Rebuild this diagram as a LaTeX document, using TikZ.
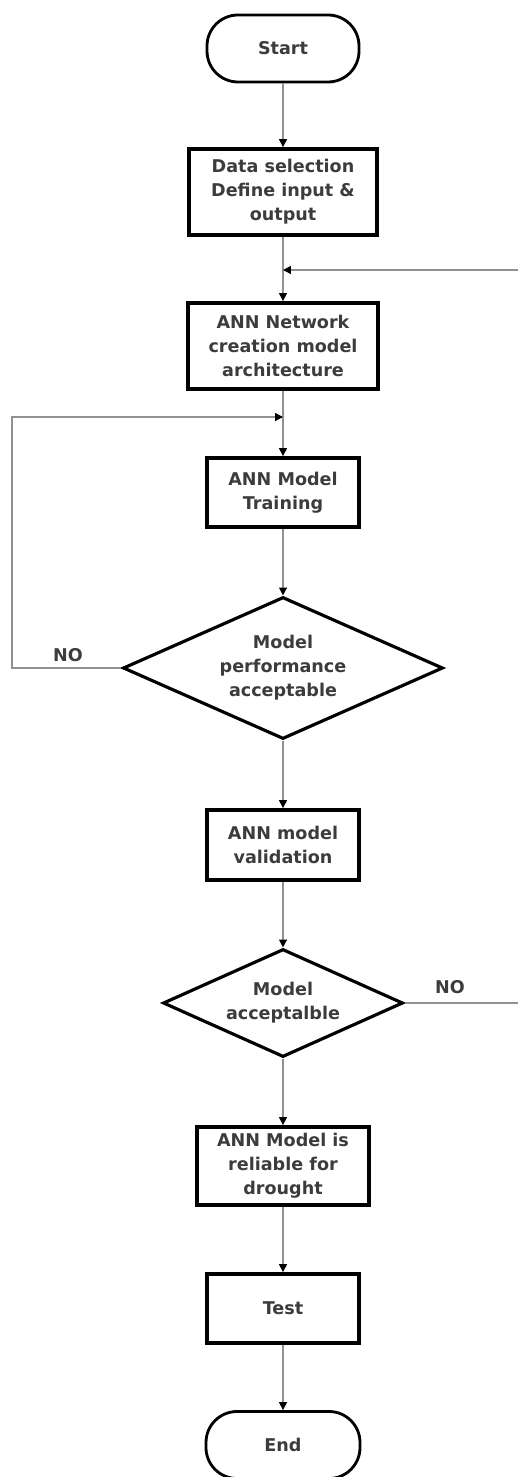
\documentclass[tikz,border=0pt]{standalone}
\usepackage{fontspec}
\setsansfont{DejaVu Sans}
\usepackage{tikz}
\usetikzlibrary{
  arrows.meta,
  positioning,
  shapes.geometric
}
\usepackage{xcolor}
\definecolor{txtgray}{RGB}{60,60,60}
\definecolor{linegray}{RGB}{145,145,145}

\begin{document}
\begin{tikzpicture}[
  every node/.style={font=\sffamily\bfseries\fontsize{10}{13.6}\selectfont, text=txtgray},
  flowbox/.style={draw=black, line width=2.2pt, fill=white, align=center,
               minimum width=3.04cm, minimum height=1.38cm, inner sep=1pt},
  termbox/.style={draw=black, line width=1.6pt, fill=white, rounded corners=0.62cm,
               minimum width=3.04cm, minimum height=1.34cm},
  decbox/.style={diamond, draw=black, line width=1.8pt, fill=white, align=center,
               inner sep=0pt, aspect=2.25},
  link/.style={draw=linegray, line width=0.8pt},
  > = {Triangle[length=4.5pt, width=4.5pt, color=black]}
]

\useasboundingbox (0, 0) rectangle (10.36, -29.54);

\node[termbox] (start) at (5.66, -0.97) {Start};
\node[flowbox, minimum width=3.76cm, minimum height=1.72cm] (sel) at (5.66, -3.84)
  {Data selection\\Define input \&\\output};
\node[flowbox, minimum width=3.8cm, minimum height=1.72cm] (net) at (5.66, -6.92)
  {ANN Network\\creation model\\architecture};
\node[flowbox] (train) at (5.66, -9.85)
  {ANN Model\\Training};
\node[decbox, minimum width=6.4cm, minimum height=2.84cm] (perf) at (5.66, -13.36)
  {Model\\performance\\acceptable};
\node[flowbox, minimum height=1.4cm] (valid) at (5.66, -16.9)
  {ANN model\\validation};
\node[decbox, minimum width=4.8cm, minimum height=2.16cm] (accept) at (5.66, -20.06)
  {Model\\acceptalble};
\node[flowbox, minimum width=3.44cm, minimum height=1.56cm] (reliable) at (5.66, -23.32)
  {ANN Model is\\reliable for\\drought};
\node[flowbox] (test) at (5.66, -26.17) {Test};
\node[termbox, minimum width=3.08cm] (stop) at (5.66, -28.9) {End};

% junctions and free ends of the feedback lines
\coordinate (j1) at (5.66, -5.40);
\coordinate (rin) at (10.36, -5.40);
\coordinate (j2) at (5.66, -8.34);
\coordinate (loopl) at (0.24, -13.36);
\coordinate (rout) at (10.36, -20.06);

\draw[link, ->] (start) -- (sel);
\draw[link, ->] (sel) -- (net);
\draw[link, ->] (rin) -- (j1);
\draw[link, ->] (net) -- (train);
\draw[link, ->] (train) -- (perf);
\draw[link, ->] (perf.west) -- (loopl) |- (j2);
\draw[link, ->] (perf) -- (valid);
\draw[link, ->] (valid) -- (accept);
\draw[link] (accept.east) -- (rout);
\draw[link, ->] (accept) -- (reliable);
\draw[link, ->] (reliable) -- (test);
\draw[link, ->] (test) -- (stop);

\node (no1) at (1.36, -13.1) {NO};
\node (no2) at (9.0, -19.74) {NO};

\end{tikzpicture}
\end{document}
